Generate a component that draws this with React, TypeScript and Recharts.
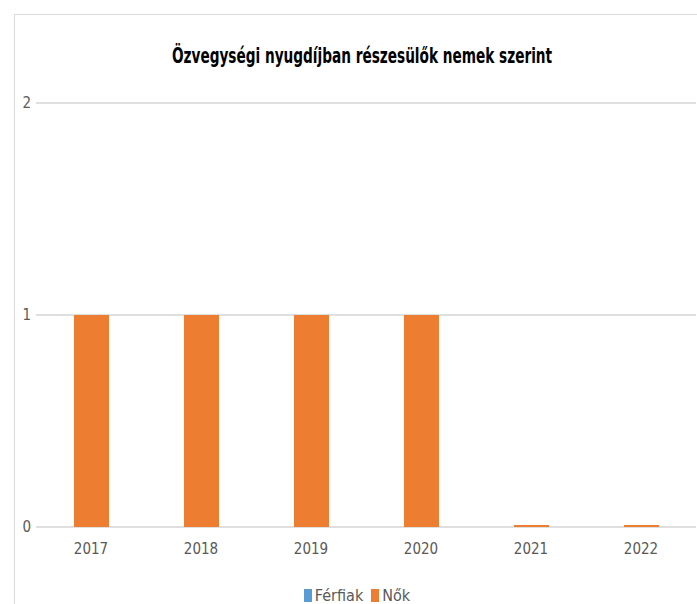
import React from 'react'
import { BarChart, Bar, XAxis, YAxis, CartesianGrid, Legend } from 'recharts'

const years = ['2017', '2018', '2019', '2020', '2021', '2022']
const ferfiak = [0, 0, 0, 0, 0, 0]
const nok = [1, 1, 1, 1, 0, 0]
const yTicks = [0, 1, 2]

const data = years.map((ev, i) => ({ ev, ferfiak: ferfiak[i], nok: nok[i] }))

const font = "'Liberation Sans Narrow', 'DejaVu Sans Condensed', 'Noto Sans', sans-serif"

const series = [
  { key: 'ferfiak', name: 'Férfiak', color: '#5B9BD5' },
  { key: 'nok', name: 'Nők', color: '#ED7D31' },
]

function LegendContent() {
  return (
    <div style={{ display: 'flex', justifyContent: 'center', paddingLeft: 26, fontFamily: font, fontSize: 16, color: '#595959', lineHeight: '17px' }}>
      {series.map((s) => (
        <div key={s.key} style={{ display: 'flex', alignItems: 'center', marginRight: 8 }}>
          <div style={{ width: 8, height: 13, background: s.color, marginRight: 3 }}></div>
          <span>{s.name}</span>
        </div>
      ))}
    </div>
  )
}

// kék sáv csak az első négy évnél látszik a nulla vonalon
const ferfiMin = (_v: unknown, i: number) => (i < 4 ? 1 : 0)

export default function App() {
  return (
    <div style={{ position: 'absolute', left: 0, top: 0, width: 697, height: 604, overflow: 'hidden', background: '#fff' }}>
      <div style={{ position: 'absolute', left: 14, top: 14, width: 800, height: 800, borderLeft: '1px solid #d9d9d9', borderTop: '1px solid #d9d9d9' }}></div>
      <div style={{ position: 'absolute', left: 0, top: 43, width: 724, textAlign: 'center', fontFamily: font, fontWeight: 'bold', fontSize: 22, color: '#000', transform: 'scaleX(0.69)', transformOrigin: '362px 0' }}>
        Özvegységi nyugdíjban részesülők nemek szerint
      </div>
      <div style={{ position: 'absolute', left: 0, top: 0 }}>
        <BarChart width={697} height={604} data={data} margin={{ top: 103, right: 1, left: 0, bottom: 0 }}>
          <CartesianGrid horizontal vertical={false} stroke="#d4d4d4" strokeWidth={1.5} />
          <XAxis dataKey="ev" axisLine={false} tickLine={false} height={30} tickMargin={10}
            tick={{ fill: '#595959', fontSize: 15, fontFamily: font }} />
          <YAxis domain={[0, 2]} ticks={yTicks} axisLine={false} tickLine={false} tickSize={0} width={36} tickMargin={5}
            tick={{ fill: '#595959', fontSize: 15, fontFamily: font }} />
          <Legend verticalAlign="bottom" content={<LegendContent />} wrapperStyle={{ paddingTop: 30, height: 17 }} />
          <Bar dataKey="ferfiak" name="Férfiak" stackId="a" fill="#5B9BD5" barSize={35} minPointSize={ferfiMin} isAnimationActive={false} />
          <Bar dataKey="nok" name="Nők" stackId="a" fill="#ED7D31" barSize={35} minPointSize={2} isAnimationActive={false} />
        </BarChart>
      </div>
    </div>
  )
}
